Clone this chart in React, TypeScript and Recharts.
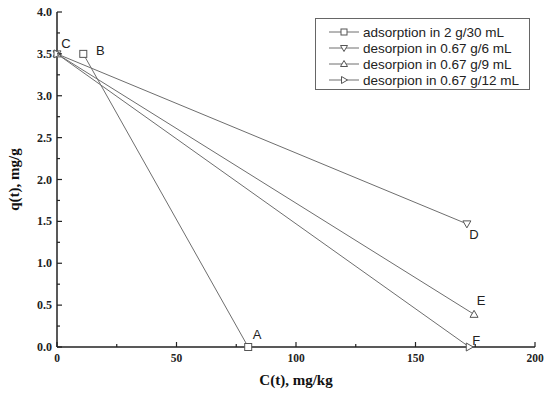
import React from "react";
import { LineChart, Line, XAxis, YAxis, Legend } from "recharts";

// points: C(t) in mg/kg, q(t) in mg/g
const adsorption = [
  { c: 80, q: 0, tag: "A" },
  { c: 11, q: 3.5, tag: "B" },
];
const desorp6 = [
  { c: 0, q: 3.5, tag: "C" },
  { c: 171.5, q: 1.47, tag: "D" },
];
const desorp9 = [
  { c: 0, q: 3.5 },
  { c: 174.5, q: 0.39, tag: "E" },
];
const desorp12 = [
  { c: 0, q: 3.5 },
  { c: 172.5, q: 0, tag: "F" },
];

const seriesNames = [
  "adsorption in 2 g/30 mL",
  "desorpion in 0.67 g/6 mL",
  "desorpion in 0.67 g/9 mL",
  "desorpion in 0.67 g/12 mL",
];

const xTicks = [0, 25, 50, 75, 100, 125, 150, 175, 200];
const yTicks = [0, 0.25, 0.5, 0.75, 1, 1.25, 1.5, 1.75, 2, 2.25, 2.5, 2.75, 3, 3.25, 3.5, 3.75, 4];

const AXIS = "#222";
const LINE = "#6e6e6e";
const SERIF = '"Liberation Serif", "Times New Roman", serif';
const SANS = '"Liberation Sans", Arial, sans-serif';

type Shape = "square" | "down" | "up" | "right";

const series: { name: string; data: any[]; shape: Shape }[] = [
  { name: seriesNames[0], data: adsorption, shape: "square" },
  { name: seriesNames[1], data: desorp6, shape: "down" },
  { name: seriesNames[2], data: desorp9, shape: "up" },
  { name: seriesNames[3], data: desorp12, shape: "right" },
];

// where each point letter sits relative to its marker
const tagOffset: Record<string, [number, number]> = {
  A: [9, -13],
  B: [17, -3],
  C: [9, -10],
  D: [7, 11],
  E: [7, -14],
  F: [7, -7],
};

function Marker({ cx, cy, shape, r = 4 }: { cx: number; cy: number; shape: Shape; r?: number }) {
  const common = { fill: "#fff", stroke: "#555", strokeWidth: 1 };
  if (shape === "square") {
    return <rect x={cx - r + 0.5} y={cy - r + 0.5} width={2 * r - 1} height={2 * r - 1} {...common} />;
  }
  let pts = "";
  if (shape === "down") pts = `${cx - r},${cy - r + 1} ${cx + r},${cy - r + 1} ${cx},${cy + r}`;
  if (shape === "up") pts = `${cx - r},${cy + r - 1} ${cx + r},${cy + r - 1} ${cx},${cy - r}`;
  if (shape === "right") pts = `${cx - r + 1},${cy - r} ${cx - r + 1},${cy + r} ${cx + r},${cy}`;
  return <polygon points={pts} {...common} />;
}

const makeDot = (shape: Shape) => (props: any) => {
  const { cx, cy, payload, index } = props;
  const off = payload.tag ? tagOffset[payload.tag] : null;
  return (
    <g key={`${shape}-${index}`}>
      <Marker cx={cx} cy={cy} shape={shape} />
      {off && (
        <text
          x={cx + off[0]}
          y={cy + off[1]}
          textAnchor="middle"
          dominantBaseline="central"
          fontFamily={SANS}
          fontSize={13}
          fill="#222"
        >
          {payload.tag}
        </text>
      )}
    </g>
  );
};

const XTick = (props: any) => {
  const { x, y, payload } = props;
  const major = payload.value % 50 === 0;
  return (
    <g>
      <line x1={x} x2={x} y1={y} y2={y - (major ? 5 : 3)} stroke={AXIS} strokeWidth={1.2} />
      {major && (
        <text x={x} y={y + 11} textAnchor="middle" dominantBaseline="central" fontFamily={SERIF} fontWeight="bold" fontSize={11.5} fill="#222">
          {payload.value}
        </text>
      )}
    </g>
  );
};

const YTick = (props: any) => {
  const { x, y, payload } = props;
  const major = Math.abs(payload.value * 2 - Math.round(payload.value * 2)) < 1e-6;
  return (
    <g>
      <line x1={x} x2={x + (major ? 5 : 3)} y1={y} y2={y} stroke={AXIS} strokeWidth={1.2} />
      {major && (
        <text x={x - 5} y={y} textAnchor="end" dominantBaseline="central" fontFamily={SERIF} fontWeight="bold" fontSize={12} fill="#222">
          {payload.value.toFixed(1)}
        </text>
      )}
    </g>
  );
};

const LegendBox = (props: any) => {
  const payload = [...(props.payload || [])].sort(
    (a: any, b: any) => seriesNames.indexOf(a.value) - seriesNames.indexOf(b.value)
  );
  return (
    <div
      style={{
        border: "1px solid #666",
        background: "#fff",
        width: 215,
        height: 72,
        boxSizing: "border-box",
        padding: "5px 0 0 12px",
        fontFamily: SANS,
        fontSize: 13.5,
        color: "#222",
      }}
    >
      {payload.map((p: any) => {
        const s = series.find((d) => d.name === p.value);
        return (
          <div key={p.value} style={{ display: "flex", alignItems: "center", height: 16, whiteSpace: "nowrap" }}>
            <svg width={32} height={12} style={{ marginRight: 3 }}>
              <line x1={1} x2={31} y1={6} y2={6} stroke={LINE} />
              <Marker cx={16} cy={6} shape={s ? s.shape : "square"} r={3.5} />
            </svg>
            <span>{p.value}</span>
          </div>
        );
      })}
    </div>
  );
};

export default function App() {
  return (
    <div style={{ position: "absolute", left: 0, top: 0, background: "#fff" }}>
      <LineChart width={550} height={396} margin={{ top: 12, right: 15, bottom: 0, left: 0 }}>
        <XAxis
          dataKey="c"
          type="number"
          domain={[0, 200]}
          ticks={xTicks}
          interval={0}
          tickSize={0}
          tickMargin={0}
          tick={<XTick />}
          height={49}
          axisLine={{ stroke: AXIS, strokeWidth: 1.5 }}
          tickLine={false}
          label={{
            content: (p: any) => {
              const vb = p.viewBox;
              return (
                <text x={vb.x + vb.width / 2} y={vb.y + 33} textAnchor="middle" dominantBaseline="central" fontFamily={SERIF} fontWeight="bold" fontSize={15} fill="#111">
                  C(t), mg/kg
                </text>
              );
            },
          }}
        />
        <XAxis xAxisId="top" orientation="top" type="number" domain={[0, 200]} height={0} tick={false} tickLine={false} axisLine={{ stroke: AXIS, strokeWidth: 1.5 }} />
        <YAxis
          type="number"
          domain={[0, 4]}
          ticks={yTicks}
          interval={0}
          tickSize={0}
          tickMargin={0}
          tick={<YTick />}
          width={57}
          axisLine={{ stroke: AXIS, strokeWidth: 1.5 }}
          tickLine={false}
          label={{
            content: (p: any) => {
              const vb = p.viewBox;
              const cy = vb.y + vb.height / 2;
              return (
                <text x={14} y={cy} transform={`rotate(-90 14 ${cy})`} textAnchor="middle" dominantBaseline="central" fontFamily={SERIF} fontWeight="bold" fontSize={15} fill="#111">
                  q(t), mg/g
                </text>
              );
            },
          }}
        />
        <YAxis yAxisId="right" orientation="right" type="number" domain={[0, 4]} width={0} tick={false} tickLine={false} axisLine={{ stroke: AXIS, strokeWidth: 1.5 }} />
        {series.map((s) => (
          <Line
            key={s.name}
            name={s.name}
            data={s.data}
            dataKey="q"
            stroke={LINE}
            strokeWidth={1}
            dot={makeDot(s.shape)}
            activeDot={false}
            isAnimationActive={false}
          />
        ))}
        <Legend
          layout="vertical"
          align="center"
          verticalAlign="middle"
          content={<LegendBox />}
          wrapperStyle={{ top: 18, left: 315, width: 215, height: 72 }}
        />
      </LineChart>
    </div>
  );
}
